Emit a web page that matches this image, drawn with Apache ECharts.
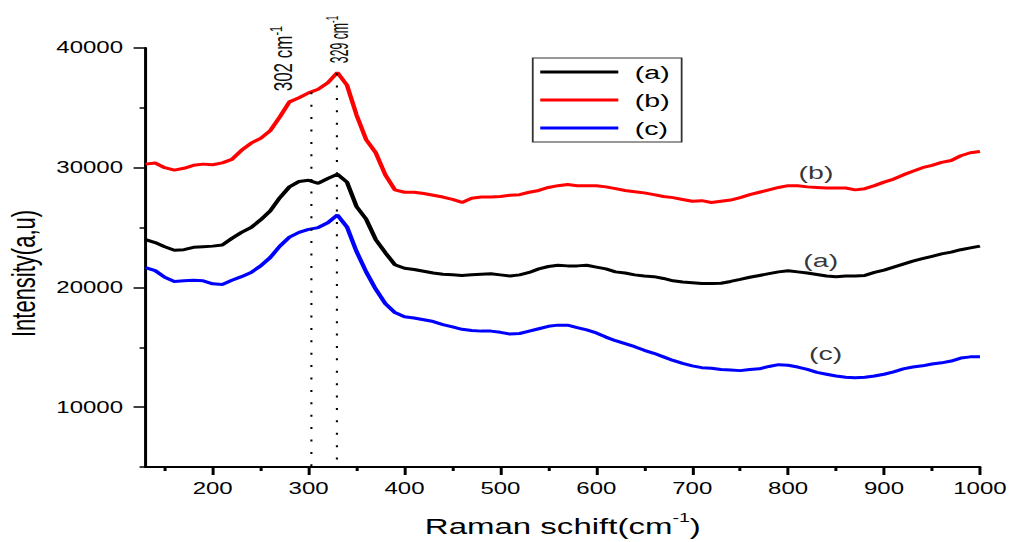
<!DOCTYPE html>
<html>
<head>
<meta charset="utf-8">
<title>Raman spectra</title>
<script src="https://cdn.jsdelivr.net/npm/echarts@6/dist/echarts.min.js"></script>
<style>
  html, body { margin: 0; padding: 0; background: #fff; overflow: hidden; }
  #wrap { width: 1013px; height: 542px; overflow: hidden; }
  /* the original figure is stretched horizontally, so draw narrow and scale */
  #main { width: 675px; height: 542px; transform: scaleX(1.5007); transform-origin: 0 0; }
</style>
</head>
<body>
<div id="wrap"><div id="main"></div></div>
<script>
// Raman shift (cm-1)
var ramanShift = [
  130, 140, 150, 160, 170, 180, 190, 200, 210, 220,
  230, 240, 250, 260, 270, 280, 290, 300, 310, 320,
  330, 340, 350, 360, 370, 380, 390, 400, 410, 420,
  430, 440, 450, 460, 470, 480, 490, 500, 510, 520,
  530, 540, 550, 560, 570, 580, 590, 600, 610, 620,
  630, 640, 650, 660, 670, 680, 690, 700, 710, 720,
  730, 740, 750, 760, 770, 780, 790, 800, 810, 820,
  830, 840, 850, 860, 870, 880, 890, 900, 910, 920,
  930, 940, 950, 960, 970, 980, 990, 1000
];
// (a) black
var intensityA = [
  24000, 23750, 23400, 23100, 23150, 23350, 23400, 23450, 23550, 24100,
  24600, 25000, 25650, 26400, 27500, 28400, 28850, 28950, 28700, 29100,
  29450, 28800, 26750, 25700, 24000, 22900, 21900, 21600, 21500, 21350,
  21200, 21100, 21050, 21000, 21050, 21100, 21150, 21050, 20950, 21050,
  21250, 21550, 21750, 21850, 21800, 21800, 21850, 21700, 21550, 21300,
  21200, 21050, 20950, 20900, 20750, 20550, 20450, 20400, 20330, 20330,
  20350, 20500, 20670, 20850, 21000, 21150, 21300, 21400, 21300, 21200,
  21080, 20950, 20900, 20950, 20950, 21000, 21250, 21450, 21700, 21950,
  22200, 22400, 22600, 22800, 22950, 23150, 23300, 23450
];
// (b) red
var intensityB = [
  30300, 30400, 30000, 29800, 29950, 30200, 30300, 30250, 30400, 30700,
  31450, 32050, 32450, 33100, 34250, 35500, 35850, 36250, 36550, 37100,
  37950, 36900, 34400, 32350, 31250, 29400, 28150, 27950, 27950, 27850,
  27700, 27550, 27350, 27100, 27450, 27550, 27550, 27600, 27700, 27750,
  27950, 28100, 28350, 28500, 28600, 28500, 28500, 28500, 28400, 28250,
  28100, 28000, 27900, 27750, 27600, 27500, 27350, 27200, 27250, 27100,
  27200, 27300, 27500, 27750, 27950, 28150, 28350, 28500, 28500, 28400,
  28350, 28300, 28300, 28300, 28150, 28250, 28500, 28800, 29050, 29400,
  29700, 30000, 30200, 30450, 30600, 31000, 31250, 31350
];
// (c) blue
var intensityC = [
  21650, 21400, 20850, 20500, 20550, 20600, 20550, 20300, 20250, 20600,
  20900, 21250, 21800, 22500, 23450, 24200, 24600, 24850, 25000, 25400,
  26050, 25050, 23000, 21300, 19850, 18650, 17900, 17550, 17450, 17300,
  17150, 16900, 16700, 16500, 16400, 16350, 16350, 16250, 16100, 16150,
  16350, 16550, 16750, 16850, 16850, 16650, 16450, 16200, 15850, 15550,
  15300, 15050, 14750, 14500, 14200, 13900, 13650, 13450, 13300, 13250,
  13150, 13100, 13050, 13150, 13200, 13400, 13550, 13500, 13350, 13150,
  12900, 12750, 12600, 12500, 12450, 12500, 12600, 12750, 12950, 13200,
  13350, 13450, 13600, 13700, 13850, 14100, 14200, 14200
];

var xMajorTicks = [200, 300, 400, 500, 600, 700, 800, 900, 1000];
var xMinorTicks = [150, 250, 350, 450, 550, 650, 750, 850, 950];
var yMajorTicks = [10000, 20000, 30000, 40000];
var yMinorTicks = [5000, 15000, 25000, 35000];

// marked peaks: position and intensity where the dotted line starts
var peakShift = [302, 329];
var peakTop = [36300, 37900];
var peakText = ['302 cm', '329 cm'];

// labels written next to the curves
var curveLabelText = ['(b)', '(a)', '(c)'];
var curveLabelX = [829, 834, 839];
var curveLabelY = [29600, 22250, 14500];

var FONT = '"Liberation Sans", Arial, sans-serif';

function pairs(ys) {
  return ramanShift.map(function (x, i) { return [x, ys[i]]; });
}

var chartDom = document.getElementById('main');
var myChart = echarts.init(chartDom, null, { renderer: 'svg' });

var xBase = { type: 'value', min: 130, max: 1000, position: 'bottom', gridIndex: 0,
  splitLine: { show: false }, axisLine: { onZero: false } };
var yBase = { type: 'value', min: 5000, max: 40000, position: 'left', gridIndex: 0,
  splitLine: { show: false }, axisLine: { onZero: false } };

var option = {
  animation: false,
  backgroundColor: '#fff',
  textStyle: { fontFamily: FONT },
  grid: { left: 97, right: 22, top: 48, bottom: 75, outerBoundsMode: 'none', containLabel: false },
  legend: {
    data: ['(a)', '(b)', '(c)'],
    orient: 'vertical',
    left: 355,
    top: 58,
    padding: [4, 8, 4, 5],
    itemGap: 8,
    itemWidth: 52,
    itemHeight: 3,
    icon: 'rect',
    borderColor: '#333',
    borderWidth: 1.2,
    textStyle: { fontSize: 19, lineHeight: 20, color: '#000', fontFamily: FONT, padding: [0, 0, 0, 6] }
  },
  xAxis: [
    Object.assign({}, xBase, {
      name: 'Raman schift(cm{sup|-1})',
      nameLocation: 'middle',
      nameGap: 44,
      nameTextStyle: { fontSize: 22, color: '#000', fontFamily: FONT,
        rich: { sup: { fontSize: 13, verticalAlign: 'top', padding: [0, 0, 18, 0], color: '#000', fontFamily: FONT } } },
      axisLine: { show: true, onZero: false, lineStyle: { color: '#000', width: 2 } },
      axisTick: { show: true, length: 8, customValues: xMajorTicks, lineStyle: { color: '#000', width: 2 } },
      axisLabel: { show: true, customValues: xMajorTicks, margin: 14, fontSize: 16, color: '#000',
        fontFamily: FONT, formatter: function (v) { return String(v); } }
    }),
    Object.assign({}, xBase, {
      axisLine: { show: false, onZero: false },
      axisTick: { show: true, length: 4, customValues: xMinorTicks, lineStyle: { color: '#000', width: 2 } },
      axisLabel: { show: false }
    })
  ],
  yAxis: [
    Object.assign({}, yBase, {
      name: 'Intensity(a,u)',
      nameLocation: 'middle',
      nameGap: 70,
      nameTextStyle: { fontSize: 22, color: '#000', fontFamily: FONT, padding: [0, 32, 0, 0] },
      axisLine: { show: true, onZero: false, lineStyle: { color: '#000', width: 2 } },
      axisTick: { show: true, length: 8, customValues: yMajorTicks, lineStyle: { color: '#000', width: 1.5 } },
      axisLabel: { show: true, customValues: yMajorTicks, margin: 15, fontSize: 16, color: '#000',
        fontFamily: FONT, formatter: function (v) { return String(v); } }
    }),
    Object.assign({}, yBase, {
      axisLine: { show: false, onZero: false },
      axisTick: { show: true, length: 4, customValues: yMinorTicks, lineStyle: { color: '#000', width: 1.5 } },
      axisLabel: { show: false }
    })
  ],
  series: [
    {
      name: '(a)', type: 'line', xAxisIndex: 0, yAxisIndex: 0,
      data: pairs(intensityA), showSymbol: false, silent: true,
      lineStyle: { color: '#000000', width: 3 }, itemStyle: { color: '#000000' }
    },
    {
      name: '(b)', type: 'line', xAxisIndex: 0, yAxisIndex: 0,
      data: pairs(intensityB), showSymbol: false, silent: true,
      lineStyle: { color: '#ff0000', width: 3 }, itemStyle: { color: '#ff0000' },
      markLine: {
        silent: true,
        symbol: ['none', 'none'],
        label: { show: false },
        lineStyle: { color: '#000', width: 1.4, type: [2, 10.4] },
        data: peakShift.map(function (x, i) {
          return [{ coord: [x, peakTop[i]] }, { coord: [x, 5000] }];
        })
      }
    },
    {
      name: '(c)', type: 'line', xAxisIndex: 0, yAxisIndex: 0,
      data: pairs(intensityC), showSymbol: false, silent: true,
      lineStyle: { color: '#0000ff', width: 3 }, itemStyle: { color: '#0000ff' }
    },
    {
      name: 'curve labels', type: 'scatter', xAxisIndex: 0, yAxisIndex: 0, silent: true,
      symbolSize: 1, itemStyle: { color: 'transparent' },
      data: curveLabelX.map(function (x, i) { return { value: [x, curveLabelY[i]], name: curveLabelText[i] }; }),
      label: { show: true, position: 'inside', formatter: function (p) { return p.name; },
        fontSize: 19, color: '#000', fontFamily: FONT }
    }
  ]
};

myChart.setOption(option);

// rotated peak labels, placed from the data coordinates of the dotted lines
var peakOffset = [[-18, -1], [2, -10]];
var peakSqueeze = [1, 0.72];
var peakGraphics = peakShift.map(function (x, i) {
  var p = myChart.convertToPixel({ seriesIndex: 1 }, [x, peakTop[i]]);
  return {
    type: 'text',
    x: p[0] + peakOffset[i][0],
    y: p[1] + peakOffset[i][1],
    rotation: Math.PI / 2,
    scaleX: peakSqueeze[i],
    silent: true,
    style: {
      text: peakText[i] + '{sup|-1}',
      fontSize: 17,
      fontFamily: FONT,
      fill: '#111',
      align: 'left',
      verticalAlign: 'middle',
      rich: { sup: { fontSize: 11, verticalAlign: 'top', padding: [0, 0, 10, 0], fill: '#111', fontFamily: FONT } }
    }
  };
});
myChart.setOption({ graphic: peakGraphics });
</script>
</body>
</html>
